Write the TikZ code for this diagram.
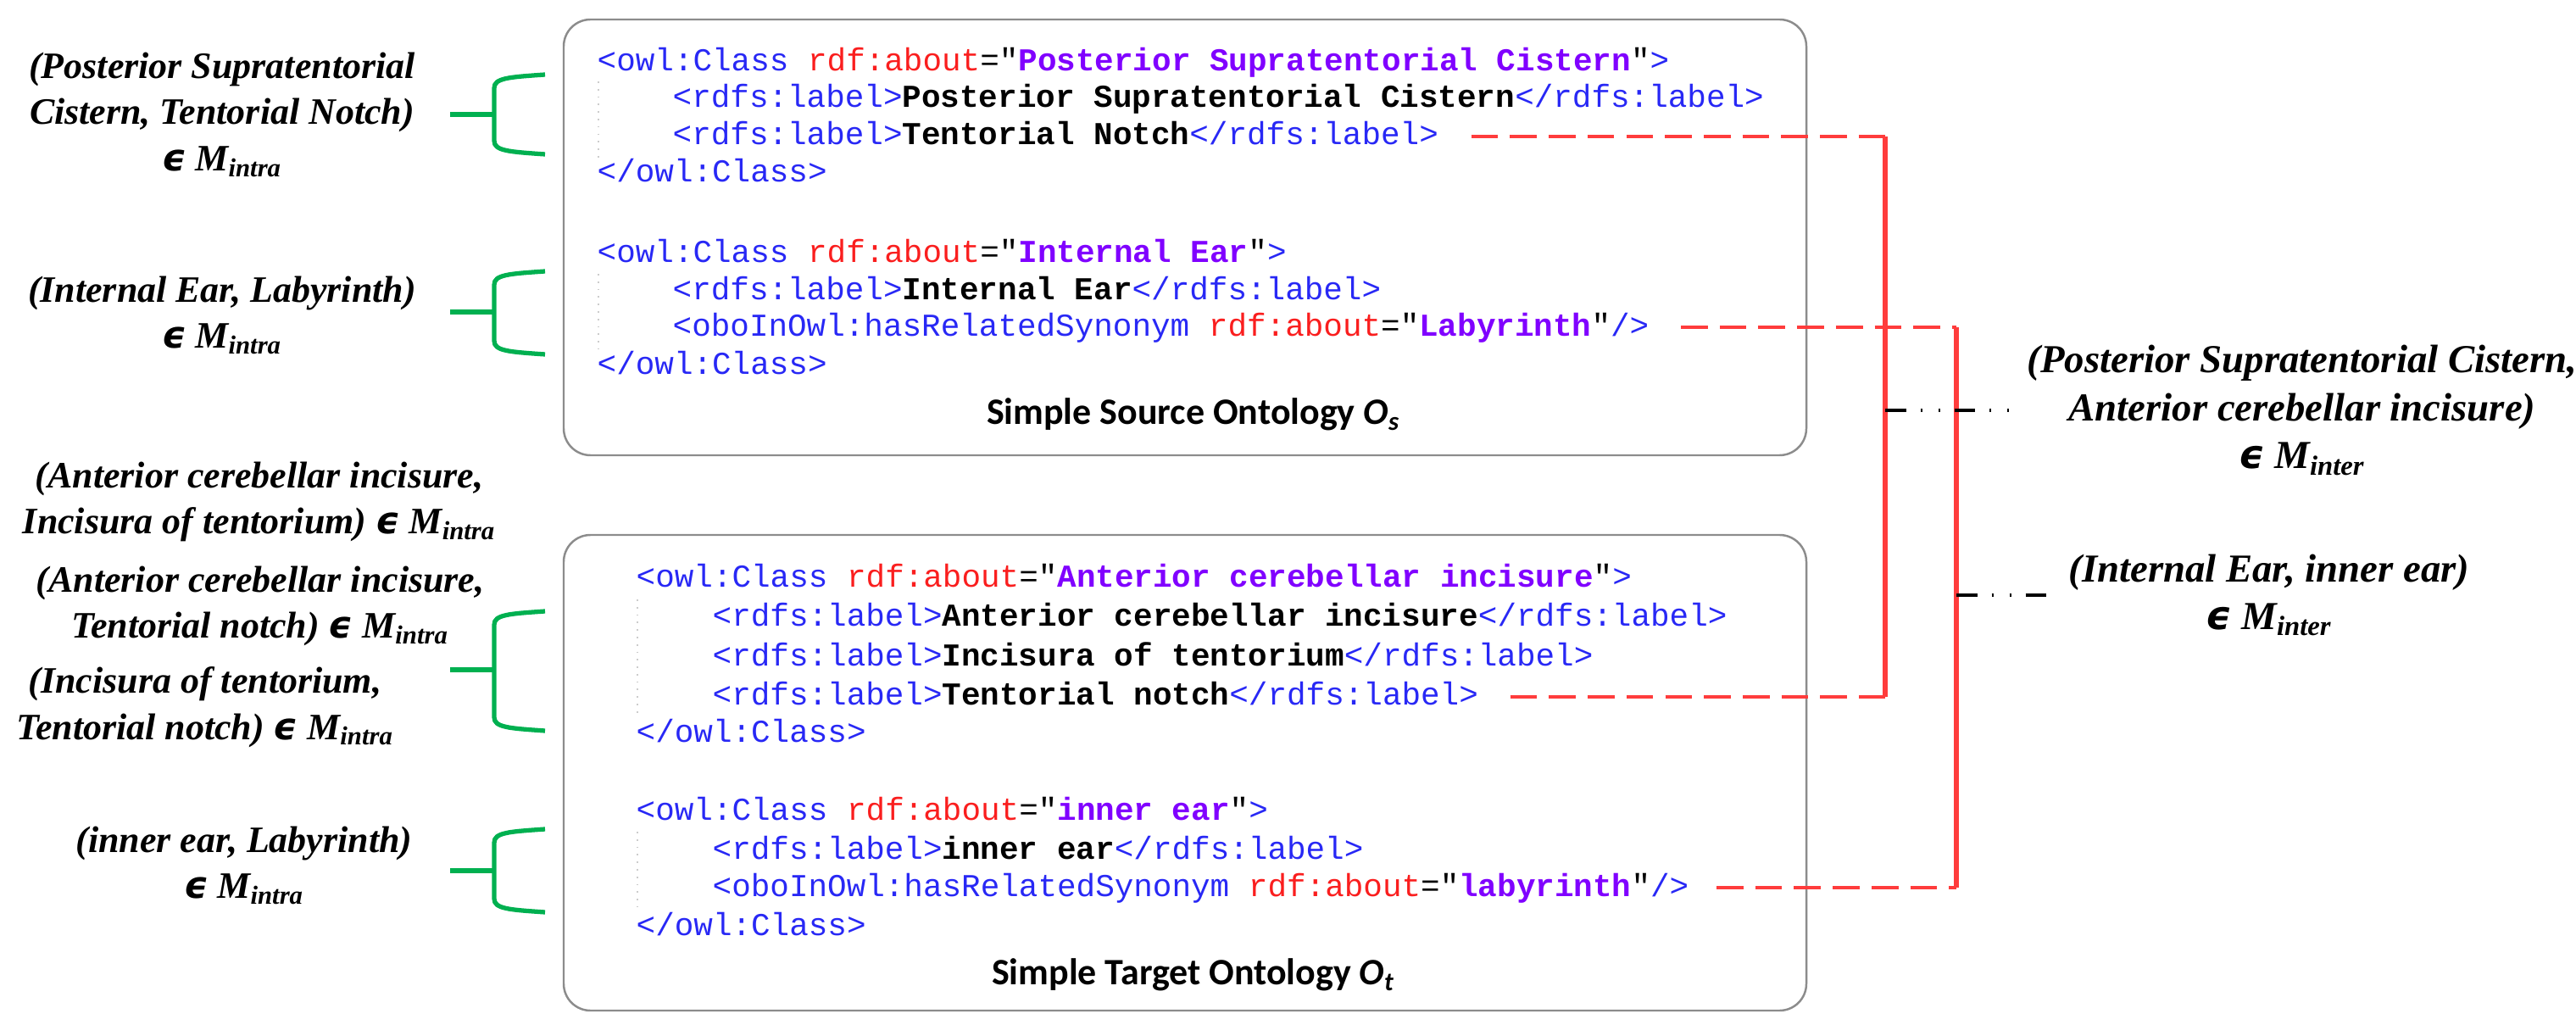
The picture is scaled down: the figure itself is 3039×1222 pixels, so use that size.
\documentclass[tikz,border=0pt]{standalone}
\usepackage{fontspec}
\setmainfont{Liberation Serif}
\newfontfamily\codefont[Ligatures=TeXOff]{Liberation Mono}
\newfontfamily\titlefont{Carlito}
\newfontfamily\epsfont{DejaVu Sans}
\definecolor{tagblue}{RGB}{40,40,245}
\definecolor{attred}{RGB}{250,30,30}
\definecolor{valpurple}{RGB}{128,0,255}
\definecolor{mapred}{RGB}{255,60,60}
\definecolor{bracegreen}{RGB}{0,176,80}
\newcommand{\xtag}[1]{\textcolor{tagblue}{#1}}
\newcommand{\xattr}[1]{\textcolor{attred}{#1}}
\newcommand{\xval}[1]{\textcolor{valpurple}{\bfseries #1}}
\newcommand{\inintra}{{\epsfont\bfseries ϵ} M\textsubscript{intra}}
\newcommand{\ininter}{{\epsfont\bfseries ϵ} M\textsubscript{inter}}
\begin{document}
\begin{tikzpicture}[x=0.01cm,y=-0.01cm,
  code/.style={anchor=base west,inner sep=0pt,font=\codefont\fontsize{10.7}{12}\selectfont},
  obox/.style={draw=gray!90,line width=0.7pt,rounded corners=9pt},
  otitle/.style={font=\titlefont\bfseries\fontsize{12.5}{14}\selectfont},
  pair/.style={align=center,inner sep=0pt,font=\bfseries\itshape\fontsize{12.5}{15.5}\selectfont},
  rpair/.style={pair,font=\bfseries\itshape\fontsize{13.3}{16}\selectfont},
  gbrace/.style={bracegreen,line width=1.5pt},
  reddash/.style={mapred,line width=1pt,dash pattern=on 9pt off 4pt},
  redbar/.style={mapred,line width=1.8pt},
  mapdash/.style={black,line width=1pt,dash pattern=on 7pt off 4.8pt on 0.6pt off 5.4pt on 0.6pt off 4.8pt},
  guide/.style={gray!40,line width=0.5pt,dotted}]
\useasboundingbox (0,0) rectangle (3039,1222);
%\draw[help lines,step=100] (0,0) grid (3039,1222);

% source ontology
\draw[obox] (665,23) rectangle (2131,537);
\node[code] (s1) at (704,84) {\xtag{<owl:Class }\xattr{rdf:about}="\xval{Posterior Supratentorial Cistern}"\xtag{>}};
\node[code] (s2) at (793,127) {\xtag{<rdfs:label>}\textbf{Posterior Supratentorial Cistern}\xtag{</rdfs:label>}};
\node[code] (s3) at (793,171) {\xtag{<rdfs:label>}\textbf{Tentorial Notch}\xtag{</rdfs:label>}};
\node[code] (s4) at (704,215) {\xtag{</owl:Class>}};
\node[code] (s5) at (704,310) {\xtag{<owl:Class }\xattr{rdf:about}="\xval{Internal Ear}"\xtag{>}};
\node[code] (s6) at (793,354) {\xtag{<rdfs:label>}\textbf{Internal Ear}\xtag{</rdfs:label>}};
\node[code] (s7) at (793,397) {\xtag{<oboInOwl:hasRelatedSynonym }\xattr{rdf:about}="\xval{Labyrinth}"\xtag{/>}};
\node[code] (s8) at (704,442) {\xtag{</owl:Class>}};
\draw[guide] (706,96)--(706,186) (706,323)--(706,412);
\node[otitle] (src) at (1408,489) {Simple Source Ontology \textit{O}\textsubscript{\textit{s}}};

% target ontology
\draw[obox] (665,631) rectangle (2131,1192);
\node[code] (t1) at (750,693) {\xtag{<owl:Class }\xattr{rdf:about}="\xval{Anterior cerebellar incisure}"\xtag{>}};
\node[code] (t2) at (840,739) {\xtag{<rdfs:label>}\textbf{Anterior cerebellar incisure}\xtag{</rdfs:label>}};
\node[code] (t3) at (840,785) {\xtag{<rdfs:label>}\textbf{Incisura of tentorium}\xtag{</rdfs:label>}};
\node[code] (t4) at (840,831) {\xtag{<rdfs:label>}\textbf{Tentorial notch}\xtag{</rdfs:label>}};
\node[code] (t5) at (750,876) {\xtag{</owl:Class>}};
\node[code] (t6) at (750,967) {\xtag{<owl:Class }\xattr{rdf:about}="\xval{inner ear}"\xtag{>}};
\node[code] (t7) at (840,1013) {\xtag{<rdfs:label>}\textbf{inner ear}\xtag{</rdfs:label>}};
\node[code] (t8) at (840,1057) {\xtag{<oboInOwl:hasRelatedSynonym }\xattr{rdf:about}="\xval{labyrinth}"\xtag{/>}};
\node[code] (t9) at (750,1103) {\xtag{</owl:Class>}};
\draw[guide] (752,707)--(752,842) (752,981)--(752,1070);
\node[otitle] (tgt) at (1408,1150) {Simple Target Ontology \textit{O}\textsubscript{\textit{t}}};

% intra mappings
\node[pair] (p1) at (262,135) {(Posterior Supratentorial\\Cistern, Tentorial Notch)\\\inintra};
\node[pair] (p2) at (262,372) {(Internal Ear, Labyrinth)\\\inintra};
\node[pair] (p3) at (306,592) {(Anterior cerebellar incisure,\\Incisura of tentorium) \inintra};
\node[pair] (p4) at (307,715) {(Anterior cerebellar incisure,\\Tentorial notch) \inintra};
\node[pair] (p5) at (242,834) {(Incisura of tentorium,\\Tentorial notch) \inintra};
\node[pair] (p6) at (288,1021) {(inner ear, Labyrinth)\\\inintra};

\draw[gbrace] (531,135)--(583,135);
\draw[gbrace] (643,88) .. controls (600,91) and (583,92) .. (583,104) -- (583,166) .. controls (583,178) and (600,179) .. (643,182);
\draw[gbrace] (531,368)--(583,368);
\draw[gbrace] (643,320) .. controls (600,323) and (583,324) .. (583,336) -- (583,402) .. controls (583,414) and (600,415) .. (643,418);
\draw[gbrace] (531,790)--(583,790);
\draw[gbrace] (643,721) .. controls (600,724) and (583,725) .. (583,737) -- (583,846) .. controls (583,858) and (600,859) .. (643,862);
\draw[gbrace] (531,1027)--(583,1027);
\draw[gbrace] (643,978) .. controls (600,981) and (583,982) .. (583,994) -- (583,1060) .. controls (583,1072) and (600,1073) .. (643,1076);

% inter mappings
\coordinate (b1t) at (2224,161);
\coordinate (b1b) at (2224,822);
\coordinate (b2t) at (2308,386);
\coordinate (b2b) at (2308,1047);
\draw[reddash] ([xshift=0.38cm]s3.east |- b1t) -- (b1t);
\draw[reddash] ([xshift=0.37cm]s7.east |- b2t) -- (b2t);
\draw[reddash] ([xshift=0.37cm]t4.east |- b1b) -- (b1b);
\draw[reddash] ([xshift=0.32cm]t8.east |- b2b) -- (b2b);
\draw[redbar] (b1t) -- (b1b);
\draw[redbar] (b2t) -- (b2b);

\node[rpair] (r1) at (2716,484) {(Posterior Supratentorial Cistern,\\Anterior cerebellar incisure)\\\ininter};
\node[rpair] (r2) at (2677,702) {(Internal Ear, inner ear)\\\ininter};
\draw[mapdash] (b1t |- r1) -- ([xshift=-0.07cm]r1.west);
\draw[mapdash] (b2t |- r2) -- ([xshift=-0.2cm]r2.west);
\end{tikzpicture}
\end{document}
